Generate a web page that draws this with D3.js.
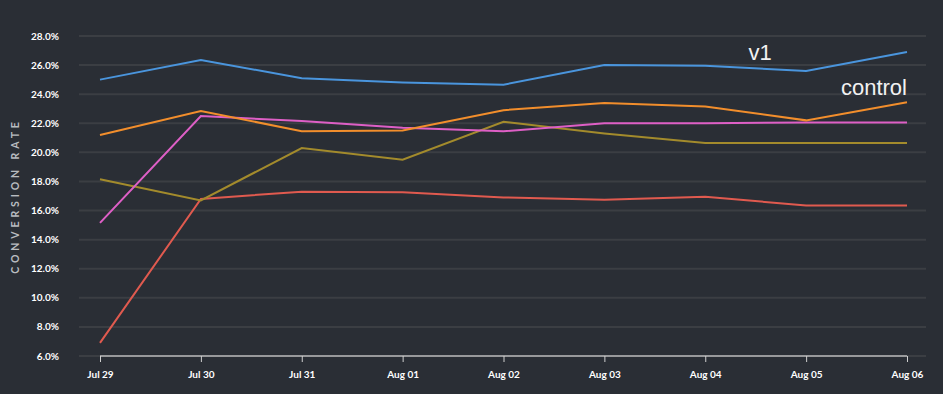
<!DOCTYPE html>
<html>
<head>
<meta charset="utf-8">
<script src="https://cdn.jsdelivr.net/npm/d3@7"></script>
<style>
  html, body { margin: 0; padding: 0; background: #2a2e35; }
  svg { display: block; }
</style>
</head>
<body>
<div id="chart"></div>
<script>
var dates = ["Jul 29", "Jul 30", "Jul 31", "Aug 01", "Aug 02", "Aug 03", "Aug 04", "Aug 05", "Aug 06"];
var yTicks = [6, 8, 10, 12, 14, 16, 18, 20, 22, 24, 26, 28];

var v1 =      [25.0, 26.35, 25.1, 24.8, 24.65, 26.0, 25.95, 25.6, 26.9];
var control = [21.2, 22.85, 21.45, 21.5, 22.9, 23.4, 23.15, 22.2, 23.45];
var pink =    [15.15, 22.5, 22.15, 21.7, 21.45, 22.0, 22.0, 22.05, 22.05];
var olive =   [18.15, 16.7, 20.3, 19.5, 22.1, 21.3, 20.65, 20.65, 20.65];
var red =     [6.9, 16.8, 17.3, 17.25, 16.9, 16.75, 16.95, 16.35, 16.35];

var series = [
  {name: "red", values: red, color: "#e05a4f"},
  {name: "olive", values: olive, color: "#a38b2c"},
  {name: "pink", values: pink, color: "#de5fc6"},
  {name: "control", values: control, color: "#f28e2c"},
  {name: "v1", values: v1, color: "#4a95dd"}
];

var width = 943, height = 394;

var svg = d3.select("#chart")
  .append("svg")
  .attr("width", width)
  .attr("height", height);

svg.append("rect")
  .attr("width", width)
  .attr("height", height)
  .attr("fill", "#2a2e35");

var x = d3.scalePoint()
  .domain(dates)
  .range([100, 907]);

var y = d3.scaleLinear()
  .domain([6, 28])
  .range([356, 36]);

// grid lines
svg.append("g")
  .selectAll("line")
  .data(yTicks)
  .enter().append("line")
  .attr("x1", 79)
  .attr("x2", 926)
  .attr("y1", function(d) { return y(d); })
  .attr("y2", function(d) { return y(d); })
  .style("stroke", "#3b3e43")
  .style("stroke-width", 2);

// y labels
svg.append("g")
  .selectAll("text")
  .data(yTicks)
  .enter().append("text")
  .attr("x", 59)
  .attr("y", function(d) { return y(d); })
  .attr("dy", "0.35em")
  .attr("text-anchor", "end")
  .style("font-family", "Lato")
  .style("font-weight", "bold")
  .style("font-size", "10px")
  .style("fill", "#ffffff")
  .text(function(d) { return d.toFixed(1) + "%"; });

// x axis
var xAxis = svg.append("g")
  .attr("transform", "translate(0," + y(6) + ")")
  .call(d3.axisBottom(x).tickSize(6).tickPadding(9));
xAxis.select(".domain")
  .attr("d", "M" + x.range()[0] + ",0H" + x.range()[1])
  .style("stroke", "#b8b8b8")
  .style("stroke-width", 1.5);
xAxis.selectAll(".tick line")
  .style("stroke", "#cfcfcf");
xAxis.selectAll(".tick text")
  .style("font-family", "Lato")
  .style("font-weight", "bold")
  .style("font-size", "10px")
  .style("fill", "#ffffff");

// y axis title
svg.append("text")
  .attr("transform", "translate(19,196) rotate(-90)")
  .attr("text-anchor", "middle")
  .style("font-family", "Lato")
  .style("font-weight", "bold")
  .style("font-size", "10.5px")
  .style("letter-spacing", "3.9px")
  .style("fill", "#b9bcc0")
  .text("CONVERSION RATE");

var line = d3.line()
  .x(function(d, i) { return x(dates[i]); })
  .y(function(d) { return y(d); });

svg.append("g")
  .selectAll("path")
  .data(series)
  .enter().append("path")
  .attr("d", function(d) { return line(d.values); })
  .style("fill", "none")
  .style("stroke", function(d) { return d.color; })
  .style("stroke-width", 2);

// series labels
svg.append("text")
  .attr("x", x("Aug 05") - 46)
  .attr("y", 60)
  .attr("text-anchor", "middle")
  .style("font-family", "Liberation Sans")
  .style("font-size", "22px")
  .style("fill", "#f2f2f2")
  .text("v1");

svg.append("text")
  .attr("x", x("Aug 06"))
  .attr("y", 95)
  .attr("text-anchor", "end")
  .style("font-family", "Liberation Sans")
  .style("font-size", "22px")
  .style("fill", "#f2f2f2")
  .text("control");
</script>
</body>
</html>
